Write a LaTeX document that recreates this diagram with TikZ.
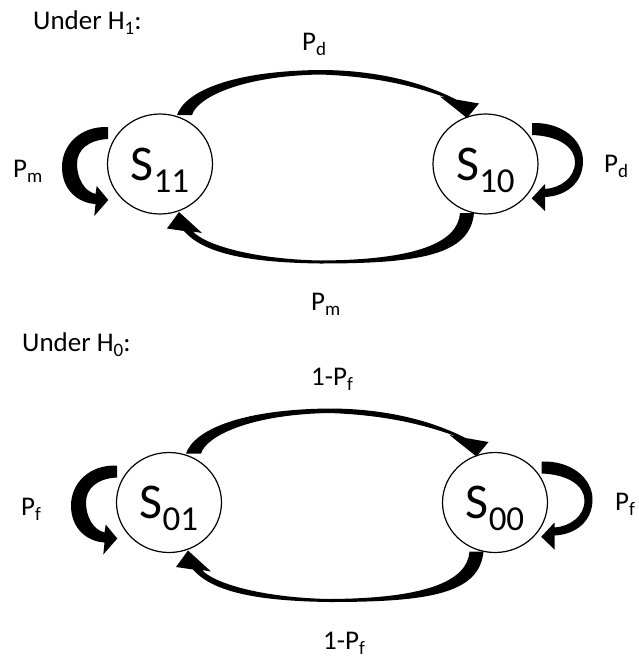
\documentclass[tikz,border=0pt]{standalone}
\usepackage{fontspec}
\setmainfont{Carlito}
\usetikzlibrary{calc,shapes.geometric}

\newcommand{\bigsub}[1]{\raisebox{-12pt}{\fontsize{35}{35}\selectfont #1}}
\newcommand{\smallsub}[1]{\raisebox{-5.5pt}{\fontsize{19}{19}\selectfont #1}}

% tapered arrow over the top, from #1 to #2
\newcommand{\toparc}[2]{%
  \fill ($(#1)+(17,-49)$) .. controls ($(#1)+(25,-72)$) and ($(#1)+(70,-93)$) .. ($(#1)+(160,-94)$)
    .. controls ($(#2)+(-105.5,-94)$) and ($(#2)+(-59.5,-80)$) .. ($(#2)+(-29.5,-64.5)$)
    -- ($(#2)+(-6.5,-60.5)$) -- ($(#2)+(-18.5,-46)$) -- ($(#2)+(-45.5,-67.5)$) -- ($(#2)+(-38.5,-66)$)
    .. controls ($(#2)+(-65.5,-76)$) and ($(#2)+(-105.5,-87.5)$) .. ($(#1)+(160,-89.5)$)
    .. controls ($(#1)+(80,-88)$) and ($(#1)+(37,-66)$) .. ($(#1)+(32,-49)$) -- cycle;}
% tapered arrow underneath, from #1 back to #2
\newcommand{\botarc}[2]{%
  \fill ($(#1)+(-11.5,49)$) .. controls ($(#1)+(-15.5,91)$) and ($(#1)+(-65.5,99.5)$) .. ($(#1)+(-165.5,99.5)$)
    .. controls ($(#2)+(90,98.5)$) and ($(#2)+(44,90)$) .. ($(#2)+(24,67)$)
    -- ($(#2)+(7,64.5)$) -- ($(#2)+(19,48)$) -- ($(#2)+(42,69)$) -- ($(#2)+(33,67.5)$)
    .. controls ($(#2)+(44,80)$) and ($(#2)+(90,95)$) .. ($(#2)+(160,96.5)$)
    .. controls ($(#1)+(-70.5,96)$) and ($(#1)+(-27.5,79)$) .. ($(#1)+(-25.5,49)$) -- cycle;}
% self loops
\newcommand{\leftloop}[1]{%
  \fill ($(#1)+(-52,-37)$) .. controls ($(#1)+(-80,-38)$) and ($(#1)+(-98,-19)$) .. ($(#1)+(-98,3)$)
    .. controls ($(#1)+(-98,26)$) and ($(#1)+(-82,39)$) .. ($(#1)+(-64.5,40)$)
    -- ($(#1)+(-65.7,52)$) -- ($(#1)+(-51.7,36)$) -- ($(#1)+(-63.3,22)$) -- ($(#1)+(-64.5,30)$)
    .. controls ($(#1)+(-76,27)$) and ($(#1)+(-83,14)$) .. ($(#1)+(-83,0)$)
    .. controls ($(#1)+(-83,-14)$) and ($(#1)+(-72,-24)$) .. ($(#1)+(-52,-25)$) -- cycle;}
\newcommand{\rightloop}[1]{%
  \fill ($(#1)+(46.5,-41)$) .. controls ($(#1)+(76.5,-42)$) and ($(#1)+(97.5,-24)$) .. ($(#1)+(97.5,-3)$)
    .. controls ($(#1)+(97.5,19)$) and ($(#1)+(80.5,32)$) .. ($(#1)+(59.5,33)$)
    -- ($(#1)+(59.5,47)$) -- ($(#1)+(46.2,34.3)$) -- ($(#1)+(59.5,20)$) -- ($(#1)+(59.5,25)$)
    .. controls ($(#1)+(74.5,24)$) and ($(#1)+(89.5,14)$) .. ($(#1)+(89.5,-2)$)
    .. controls ($(#1)+(89.5,-16)$) and ($(#1)+(74.5,-28)$) .. ($(#1)+(46.5,-29)$) -- cycle;}

\begin{document}
\begin{tikzpicture}[x=1pt, y=-1pt,
    statenode/.style={draw, ellipse, line width=1.2pt, minimum width=105pt, minimum height=100pt, inner sep=0pt, text depth=0pt, font=\fontsize{50}{50}\selectfont},
    lbl/.style={anchor=base west, inner sep=0pt, font=\fontsize{27}{27}\selectfont}]
    \useasboundingbox (0,0) rectangle (638,659);

    % under H1
    \node[lbl] (underone) at (33,29) {Under H\smallsub{1}:};
    \node[statenode] (s11) at (160,164) {S\bigsub{11}};
    \node[statenode, right of=s11, node distance=325.5pt] (s10) {S\bigsub{10}};
    \node[lbl] (pdtop) at (302,50) {P\smallsub{d}};
    \node[lbl] (pmleft) at (13,177) {P\smallsub{m}};
    \node[lbl] (pdright) at (604,172) {P\smallsub{d}};
    \node[lbl] (pmbot) at (311,310) {P\smallsub{m}};

    \toparc{s11}{s10}
    \botarc{s10}{s11}
    \leftloop{s11}
    \rightloop{s10}

    % under H0
    \node[lbl] (underzero) at (22,351) {Under H\smallsub{0}:};
    \node[statenode] (s01) at (169,502.5) {S\bigsub{01}};
    \node[statenode, right of=s01, node distance=326pt] (s00) {S\bigsub{00}};
    \node[lbl] (pftop) at (311,385) {1-P\smallsub{f}};
    \node[lbl] (pfleft) at (21,515) {P\smallsub{f}};
    \node[lbl] (pfright) at (615,510) {P\smallsub{f}};
    \node[lbl] (pfbot) at (323,649) {1-P\smallsub{f}};

    \toparc{s01}{s00}
    \botarc{s00}{s01}
    \leftloop{s01}
    \rightloop{s00}
\end{tikzpicture}
\end{document}
